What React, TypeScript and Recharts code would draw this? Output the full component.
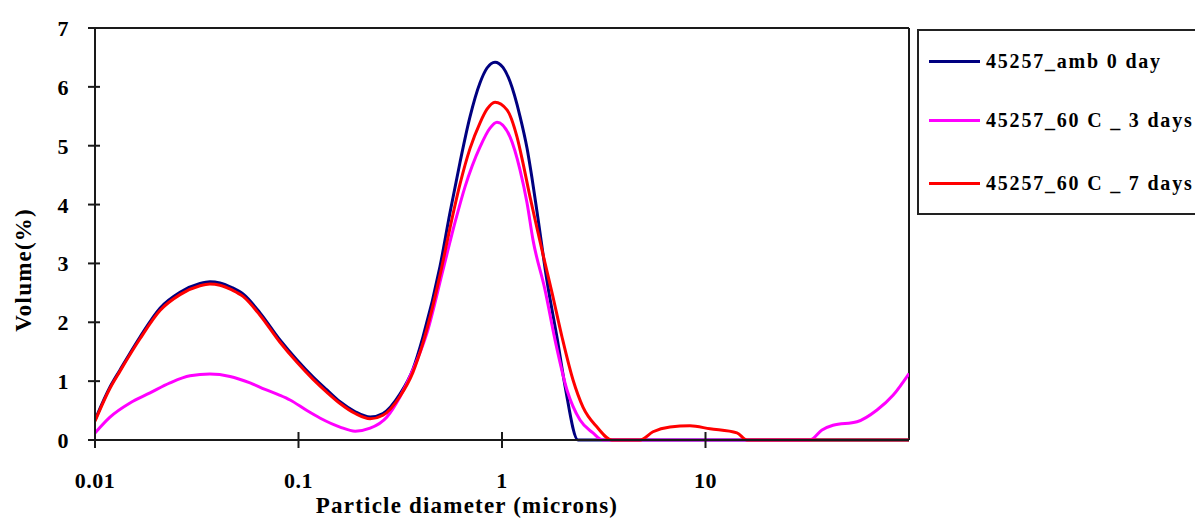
import { LineChart, Line, XAxis, YAxis, Legend, ReferenceLine } from 'recharts'

// ---------------------------------------------------------------------------
// Data (particle diameter in microns, volume in %)
// ---------------------------------------------------------------------------

const ambSize = [
  0.01, 0.01185, 0.01327, 0.01664, 0.02086, 0.02617, 0.0328, 0.0367, 0.0411, 0.0471,
  0.0534, 0.0647, 0.0811, 0.0983, 0.118, 0.138, 0.16, 0.19, 0.225, 0.26, 0.315, 0.365,
  0.409, 0.496, 0.555, 0.622, 0.696, 0.78, 0.844, 0.924, 1.011, 1.095, 1.226, 1.327,
  1.404, 1.486, 1.664, 1.864, 2.04, 2.364, 100,
]
const ambVol = [
  0.34, 0.9, 1.19, 1.75, 2.24, 2.51, 2.66, 2.69, 2.67, 2.59, 2.48, 2.16, 1.7, 1.36, 1.07,
  0.85, 0.65, 0.48, 0.39, 0.45, 0.78, 1.2, 1.75, 2.95, 3.86, 4.72, 5.49, 6.07, 6.32,
  6.42, 6.33, 6.09, 5.5, 4.96, 4.45, 3.88, 2.7, 1.74, 0.92, 0, 0,
]

const day3Size = [
  0.01, 0.01185, 0.01486, 0.01864, 0.02337, 0.0293, 0.0367, 0.0461, 0.0578, 0.0685,
  0.0811, 0.0909, 0.11, 0.128, 0.16, 0.19, 0.225, 0.272, 0.315, 0.365, 0.428, 0.513,
  0.588, 0.658, 0.78, 0.873, 0.945, 1.095, 1.226, 1.327, 1.42, 1.627, 1.822, 2.086,
  2.418, 2.8, 3.136, 32.63, 37.37, 42.32, 55.53, 69.62, 83.45, 100,
]
const day3Vol = [
  0.12, 0.39, 0.63, 0.8, 0.97, 1.09, 1.12, 1.08, 0.97, 0.86, 0.76, 0.68, 0.5, 0.37, 0.22,
  0.15, 0.2, 0.39, 0.73, 1.19, 1.82, 2.89, 3.7, 4.3, 4.98, 5.3, 5.4, 5.15, 4.59, 4.03,
  3.4, 2.55, 1.7, 0.85, 0.34, 0.12, 0, 0, 0.17, 0.25, 0.31, 0.51, 0.76, 1.13,
]

const day7Size = [
  0.01, 0.01185, 0.01327, 0.01664, 0.02086, 0.02617, 0.0328, 0.0367, 0.0411, 0.0471,
  0.0534, 0.0647, 0.0811, 0.0983, 0.118, 0.138, 0.16, 0.19, 0.225, 0.26, 0.315, 0.365,
  0.409, 0.496, 0.555, 0.622, 0.696, 0.78, 0.844, 0.924, 1.058, 1.185, 1.269, 1.373,
  1.486, 1.591, 1.762, 1.972, 2.234, 2.5, 2.93, 3.472, 4.765, 5.521, 6.693, 8.391, 10.52,
  14.28, 15.99, 100,
]
const day7Vol = [
  0.32, 0.88, 1.17, 1.72, 2.2, 2.47, 2.62, 2.65, 2.63, 2.55, 2.44, 2.12, 1.66, 1.32,
  1.03, 0.81, 0.62, 0.45, 0.36, 0.42, 0.74, 1.15, 1.65, 2.8, 3.6, 4.35, 4.95, 5.39,
  5.62, 5.74, 5.61, 5.15, 4.7, 4.13, 3.6, 3.15, 2.5, 1.75, 1.02, 0.56, 0.22, 0, 0, 0.14,
  0.22, 0.24, 0.19, 0.12, 0, 0,
]

const xTicks = [0.01, 0.1, 1, 10]
const yTicks = [0, 1, 2, 3, 4, 5, 6, 7]

const series = [
  { name: '45257_amb 0 day', color: '#000080', size: ambSize, vol: ambVol },
  { name: '45257_60 C _ 3 days', color: '#FF00FF', size: day3Size, vol: day3Vol },
  { name: '45257_60 C _ 7 days', color: '#FF0000', size: day7Size, vol: day7Vol },
]

const FONT = '"Liberation Serif", "Times New Roman", serif'
const AXIS = '#1a1a1a'

// ---------------------------------------------------------------------------
// Ticks, labels, legend
// ---------------------------------------------------------------------------

function XTick({ x, y, payload }: any) {
  return (
    <g>
      <line x1={x} x2={x} y1={y - 8} y2={y + 8} stroke={AXIS} strokeWidth={2} />
      <text
        x={x}
        y={y + 48}
        textAnchor="middle"
        fontFamily={FONT}
        fontWeight="bold"
        fontSize={22}
        letterSpacing={0.5}
        fill="#000"
      >
        {payload.value}
      </text>
    </g>
  )
}

function YTick({ x, y, payload }: any) {
  return (
    <g>
      <line x1={x - 7} x2={x + 5} y1={y} y2={y} stroke={AXIS} strokeWidth={2} />
      <text
        x={x - 32}
        y={y + 8}
        textAnchor="middle"
        fontFamily={FONT}
        fontWeight="bold"
        fontSize={22}
        fill="#000"
      >
        {payload.value}
      </text>
    </g>
  )
}

function LegendBox() {
  return (
    <div
      style={{
        position: 'relative',
        width: 290,
        height: 182,
        border: '2px solid #222',
        background: '#fff',
        fontFamily: FONT,
        fontWeight: 'bold',
        fontSize: 20,
        letterSpacing: 1.8,
        color: '#000',
      }}
    >
      {series.map((s, i) => (
        <div
          key={s.name}
          style={{
            position: 'absolute',
            left: 10,
            top: [30, 89, 152][i] - 12,
            height: 24,
            display: 'flex',
            alignItems: 'center',
            whiteSpace: 'nowrap',
          }}
        >
          <span style={{ display: 'inline-block', width: 51, height: 3, background: s.color }} />
          <span style={{ marginLeft: 6 }}>{s.name}</span>
        </div>
      ))}
    </div>
  )
}

export default function App() {
  return (
    <div
      style={{
        position: 'absolute',
        left: 0,
        top: 0,
        width: 1195,
        height: 519,
        overflow: 'hidden',
        background: '#fff',
      }}
    >
      <LineChart width={1195} height={519} margin={{ top: 28, right: 286, bottom: 0, left: 0 }}>
        <XAxis
          type="number"
          dataKey="size"
          scale="log"
          domain={[0.01, 100]}
          allowDataOverflow
          ticks={xTicks}
          tick={<XTick />}
          tickLine={false}
          tickSize={0}
          tickMargin={0}
          height={79}
          axisLine={{ stroke: AXIS, strokeWidth: 2 }}
          label={({ viewBox }: any) => (
            <text
              x={viewBox.x + viewBox.width / 2 - 35}
              y={viewBox.y + 73}
              textAnchor="middle"
              fontFamily={FONT}
              fontWeight="bold"
              fontSize={23}
              letterSpacing={1.2}
              fill="#000"
            >
              Particle diameter (microns)
            </text>
          )}
        />
        <YAxis
          type="number"
          domain={[0, 7]}
          ticks={yTicks}
          tick={<YTick />}
          tickLine={false}
          tickSize={0}
          tickMargin={0}
          width={95}
          axisLine={{ stroke: AXIS, strokeWidth: 2 }}
          label={() => (
            <text
              x={23}
              y={270}
              transform="rotate(-90 23 270)"
              textAnchor="middle"
              dominantBaseline="central"
              fontFamily={FONT}
              fontWeight="bold"
              fontSize={23}
              letterSpacing={1.2}
              fill="#000"
            >
              Volume(%)
            </text>
          )}
        />
        <ReferenceLine y={7} stroke={AXIS} strokeWidth={2} />
        <ReferenceLine x={100} stroke={AXIS} strokeWidth={2} />
        {series.map((s) => (
          <Line
            key={s.name}
            name={s.name}
            data={s.size.map((d, i) => ({ size: d, vol: s.vol[i] }))}
            dataKey="vol"
            type="monotone"
            stroke={s.color}
            strokeWidth={3}
            dot={false}
            isAnimationActive={false}
          />
        ))}
        <Legend
          layout="vertical"
          align="center"
          verticalAlign="middle"
          wrapperStyle={{ left: 917, top: 29, width: 294 }}
          content={() => <LegendBox />}
        />
      </LineChart>
    </div>
  )
}
